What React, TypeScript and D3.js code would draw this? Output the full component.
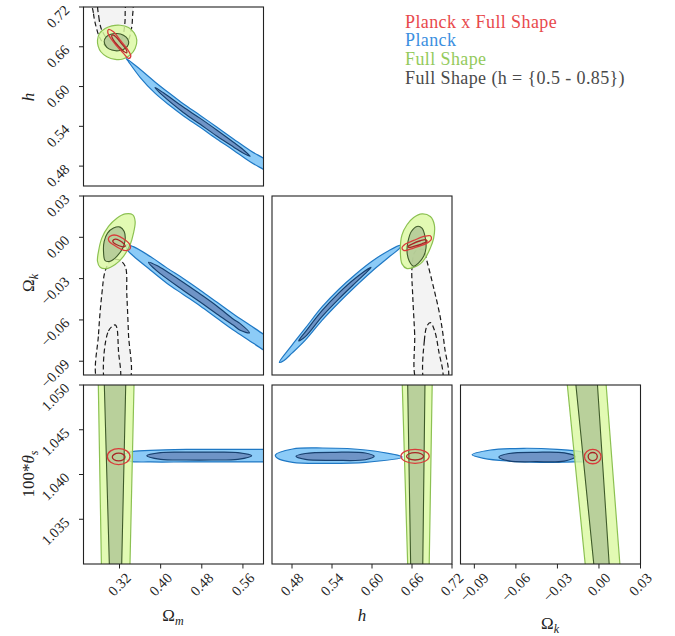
import React from "react";
import * as d3 from "d3";

type Pt = [number, number];
type Ell = [number, number, number, number]; // cx, cy, rx, ry

// parameter ranges and ticks
const omDomain: Pt = [0.25, 0.6];
const hDomain: Pt = [0.45, 0.72];
const okDomain: Pt = [-0.1, 0.03];
const thDomain: Pt = [1.03, 1.05];

const omTicks = [0.32, 0.4, 0.48, 0.56];
const hTicks = [0.48, 0.54, 0.6, 0.66, 0.72];
const okTicks = [-0.09, -0.06, -0.03, 0.0, 0.03];
const thTicks = [1.035, 1.04, 1.045, 1.05];

const legendLabels = ["Planck x Full Shape", "Planck", "Full Shape", "Full Shape (h = {0.5 - 0.85})"];
const legendColors = ["#e8494c", "#3b8fe0", "#94ca5c", "#4a4a4a"];

// ---- Omega_m vs h ----
const planckOuterOmH: Pt[] = [
  [0.333, 0.6425], [0.36, 0.626], [0.389, 0.607], [0.4185, 0.589], [0.444, 0.574], [0.477, 0.5565],
  [0.509, 0.539], [0.5416, 0.521], [0.574, 0.5035], [0.6, 0.492], [0.63, 0.478],
  [0.63, 0.462], [0.6, 0.475], [0.574, 0.4865], [0.5416, 0.504], [0.509, 0.521], [0.477, 0.5385],
  [0.444, 0.556], [0.4185, 0.571], [0.389, 0.59], [0.36, 0.614], [0.3375, 0.6375],
];
const planckInnerOmH: Pt[] = [
  [0.389, 0.5985], [0.4055, 0.5905], [0.444, 0.569], [0.477, 0.552], [0.509, 0.5345], [0.5416, 0.516],
  [0.561, 0.5045], [0.574, 0.495], [0.561, 0.4995], [0.5416, 0.509], [0.509, 0.5255], [0.477, 0.543],
  [0.444, 0.561], [0.4055, 0.5855],
];
const fsOuterOmH: Pt[] = [
  [0.2772, 0.67], [0.2811, 0.68], [0.2921, 0.6875], [0.3051, 0.6915], [0.3213, 0.6925], [0.3375, 0.689],
  [0.3485, 0.681], [0.3537, 0.67], [0.3504, 0.6575], [0.3407, 0.6475], [0.3265, 0.6415], [0.3116, 0.641],
  [0.2954, 0.645], [0.2837, 0.6525], [0.2785, 0.661],
];
const fsInnerOmH: Pt[] = [
  [0.2902, 0.6675], [0.2941, 0.675], [0.3031, 0.679], [0.3148, 0.68], [0.3278, 0.6775], [0.3362, 0.6715],
  [0.3375, 0.664], [0.331, 0.6575], [0.318, 0.654], [0.3051, 0.655], [0.2954, 0.659],
];
const pfsOuterOmH: Pt[] = [
  [0.2986, 0.686], [0.3083, 0.6825], [0.3213, 0.67], [0.3342, 0.6575], [0.342, 0.646], [0.3375, 0.6425],
  [0.3278, 0.65], [0.3148, 0.661], [0.3031, 0.6725], [0.2973, 0.681],
];
const pfsInnerOmH: Pt[] = [
  [0.3051, 0.6775], [0.3116, 0.676], [0.3226, 0.666], [0.3329, 0.656], [0.3342, 0.651], [0.3291, 0.6525],
  [0.318, 0.661], [0.3083, 0.67],
];
const priorOuterOmH: Pt[] = [
  [0.2681, 0.73], [0.2694, 0.71], [0.2746, 0.69], [0.2824, 0.6725], [0.2986, 0.6575], [0.318, 0.656],
  [0.3342, 0.665], [0.3427, 0.685], [0.3453, 0.705], [0.344, 0.73], [0.306, 0.75],
];
const priorInnerOmH: Pt[] = [
  [0.2792, 0.73], [0.2798, 0.705], [0.2856, 0.685], [0.2986, 0.67], [0.3116, 0.666], [0.3245, 0.6725],
  [0.3297, 0.69], [0.331, 0.71], [0.3291, 0.73], [0.305, 0.745],
];

// ---- Omega_m vs Omega_k ----
const planckOuterOmOk: Pt[] = [
  [0.334, -0.0054], [0.347, -0.0068], [0.38, -0.014], [0.412, -0.0222], [0.444, -0.0299], [0.477, -0.0384],
  [0.509, -0.047], [0.542, -0.0559], [0.574, -0.0639], [0.6, -0.0704], [0.626, -0.0774],
  [0.626, -0.0889], [0.6, -0.0819], [0.574, -0.0754], [0.542, -0.0675], [0.509, -0.0586], [0.477, -0.0499],
  [0.444, -0.0415], [0.412, -0.0333], [0.38, -0.0237], [0.347, -0.0136], [0.334, -0.0085],
];
const planckInnerOmOk: Pt[] = [
  [0.3764, -0.0181], [0.3926, -0.0205], [0.4444, -0.0328], [0.4768, -0.0412], [0.5092, -0.0499],
  [0.5416, -0.0595], [0.5546, -0.0627], [0.5727, -0.0694], [0.5546, -0.0675], [0.5416, -0.0639],
  [0.5092, -0.0557], [0.4768, -0.047], [0.4444, -0.0386], [0.3926, -0.0244],
];
const fsOuterOmOk: Pt[] = [
  [0.2772, -0.0174], [0.2792, -0.0102], [0.2856, -0.0006], [0.2986, 0.0079], [0.3148, 0.0139], [0.331, 0.017],
  [0.3459, 0.0163], [0.3504, 0.0115], [0.3472, 0.003], [0.3407, -0.0054], [0.3278, -0.0138], [0.3116, -0.0198],
  [0.2954, -0.0227], [0.2824, -0.0218],
];
const fsInnerOmOk: Pt[] = [
  [0.2889, -0.0102], [0.2902, -0.003], [0.2967, 0.003], [0.3083, 0.0067], [0.3213, 0.0074], [0.3291, 0.0042],
  [0.331, -0.0018], [0.3265, -0.0078], [0.3148, -0.0138], [0.3018, -0.0174], [0.2921, -0.0169],
];
const pfsOuterOmOk: Pt[] = [
  [0.2986, -0.0006], [0.3051, 0.0014], [0.3148, 0.0014], [0.3278, -0.0011], [0.3394, -0.0049],
  [0.3407, -0.0083], [0.3329, -0.0097], [0.3213, -0.0083], [0.3083, -0.0054], [0.2999, -0.003],
];
const pfsInnerOmOk: Pt[] = [
  [0.307, -0.0025], [0.3116, -0.0013], [0.32, -0.0023], [0.3291, -0.0049], [0.331, -0.0066],
  [0.3245, -0.0068], [0.3148, -0.0054], [0.3083, -0.0039],
];
const priorOuterOmOk: Pt[] = [
  [0.2759, -0.104], [0.2792, -0.0704], [0.2856, -0.0415], [0.2921, -0.0246], [0.3018, -0.0174], [0.318, -0.0162],
  [0.331, -0.021], [0.3342, -0.0415], [0.3375, -0.0704], [0.3407, -0.104], [0.31, -0.12],
];
const priorInnerOmOk: Pt[] = [
  [0.2902, -0.104], [0.2986, -0.068], [0.3116, -0.0636], [0.3148, -0.0656], [0.318, -0.0824], [0.3213, -0.104],
  [0.305, -0.115],
];

// ---- h vs Omega_k ----
const planckOuterHOk: Pt[] = [
  [0.461, -0.0908], [0.48, -0.0783], [0.5, -0.066], [0.525, -0.0506], [0.55, -0.0379], [0.575, -0.027],
  [0.6, -0.0174], [0.625, -0.0097], [0.6425, -0.0059], [0.6425, -0.0073], [0.625, -0.0145], [0.6, -0.0246],
  [0.575, -0.0357], [0.55, -0.0475], [0.525, -0.0603], [0.5, -0.0747], [0.48, -0.0841], [0.4675, -0.0896],
];
const planckInnerHOk: Pt[] = [
  [0.49, -0.0752], [0.5, -0.0687], [0.525, -0.0533], [0.55, -0.0405], [0.575, -0.0297], [0.5985, -0.0218],
  [0.595, -0.0239], [0.575, -0.0331], [0.55, -0.0449], [0.525, -0.0576], [0.5, -0.0721],
];
const fsOuterHOk: Pt[] = [
  [0.6425, -0.009], [0.645, 0.0018], [0.6525, 0.0091], [0.6625, 0.0144], [0.675, 0.017], [0.6875, 0.0151],
  [0.6935, 0.0091], [0.6925, -0.0006], [0.6875, -0.0078], [0.68, -0.015], [0.6725, -0.0193], [0.6625, -0.0218],
  [0.6525, -0.0227], [0.645, -0.0193],
];
const fsInnerHOk: Pt[] = [
  [0.6525, -0.0102], [0.654, -0.003], [0.659, 0.0042], [0.6675, 0.0079], [0.675, 0.0067], [0.68, -0.0006],
  [0.681, -0.0078], [0.6775, -0.0138], [0.67, -0.0186], [0.6625, -0.021], [0.656, -0.0174],
];
const pfsOuterHOk: Pt[] = [
  [0.645, -0.0078], [0.65, -0.0049], [0.6625, -0.0023], [0.6775, 0.0006], [0.6875, 0.0011], [0.689, -0.0013],
  [0.6825, -0.0042], [0.67, -0.0066], [0.655, -0.009], [0.6475, -0.0095],
];
const pfsInnerHOk: Pt[] = [
  [0.654, -0.0066], [0.66, -0.0049], [0.6725, -0.0025], [0.681, -0.0018], [0.6825, -0.003], [0.675, -0.0047],
  [0.6625, -0.0066], [0.655, -0.0073],
];
const priorOuterHOk: Pt[] = [
  [0.666, -0.104], [0.664, -0.0704], [0.661, -0.0415], [0.66, -0.0222], [0.665, -0.0102], [0.6775, -0.009],
  [0.6825, -0.0174], [0.6925, -0.0367], [0.7025, -0.0583], [0.709, -0.08], [0.714, -0.104], [0.69, -0.12],
];
const priorInnerHOk: Pt[] = [
  [0.6775, -0.104], [0.6785, -0.0752], [0.6825, -0.0644], [0.6875, -0.0619], [0.694, -0.068], [0.7, -0.0824],
  [0.706, -0.104], [0.69, -0.115],
];

// ---- 100*theta_s row ----
const planckOuterOmTh: Pt[] = [
  [0.325, 1.042], [0.34, 1.0425], [0.38, 1.0427], [0.45, 1.0428], [0.52, 1.0428], [0.6, 1.0428], [0.63, 1.0428],
  [0.63, 1.0414], [0.6, 1.0414], [0.52, 1.0414], [0.45, 1.0414], [0.38, 1.0414], [0.34, 1.0415],
];
const planckInnerOmTh: Pt[] = [
  [0.373, 1.0421], [0.4, 1.04245], [0.45, 1.0425], [0.5, 1.0425], [0.55, 1.04245], [0.577, 1.0421],
  [0.55, 1.0417], [0.5, 1.04162], [0.45, 1.04162], [0.4, 1.0417],
];
const fsOuterOmTh: Pt[] = [[0.2785, 1.051], [0.3486, 1.051], [0.34, 1.029], [0.2851, 1.029]];
const fsInnerOmTh: Pt[] = [[0.29, 1.051], [0.3325, 1.051], [0.3239, 1.029], [0.3007, 1.029]];
const pfsOmTh: Ell[] = [[0.3184, 1.042, 0.022, 0.0009], [0.3184, 1.04195, 0.0124, 0.00043]];

const planckOuterHTh: Pt[] = [
  [0.4551, 1.04218], [0.4809, 1.04285], [0.526, 1.04296], [0.5904, 1.04274], [0.6453, 1.04195],
  [0.5904, 1.04136], [0.526, 1.04125], [0.4809, 1.04136], [0.4583, 1.04181],
];
const planckInnerHTh: Pt[] = [
  [0.486, 1.04203], [0.5, 1.04235], [0.545, 1.04248], [0.59, 1.0424], [0.6033, 1.04203], [0.59, 1.04165],
  [0.545, 1.04158], [0.5, 1.04168],
];
const fsOuterHTh: Pt[] = [[0.645, 1.051], [0.6905, 1.051], [0.6856, 1.029], [0.6539, 1.029]];
const fsInnerHTh: Pt[] = [[0.6533, 1.051], [0.6796, 1.051], [0.676, 1.029], [0.6582, 1.029]];
const pfsHTh: Ell[] = [[0.6646, 1.04203, 0.0212, 0.00078], [0.6646, 1.04203, 0.0128, 0.00041]];

const planckOuterOkTh: Pt[] = [
  [-0.0916, 1.0422], [-0.0783, 1.04274], [-0.0543, 1.04293], [-0.0302, 1.04281], [-0.0133, 1.04255],
  [-0.0073, 1.04218], [-0.0073, 1.04154], [-0.0182, 1.0414], [-0.0422, 1.04136], [-0.0663, 1.04151],
  [-0.0832, 1.04181],
];
const planckInnerOkTh: Pt[] = [
  [-0.0723, 1.04196], [-0.065, 1.04235], [-0.045, 1.04248], [-0.025, 1.04242], [-0.0169, 1.042],
  [-0.025, 1.0415], [-0.045, 1.04143], [-0.065, 1.04152],
];
const fsOuterOkTh: Pt[] = [[-0.0235, 1.051], [0.0047, 1.051], [0.0156, 1.029], [-0.0093, 1.029]];
const fsInnerOkTh: Pt[] = [[-0.0173, 1.051], [-0.0015, 1.051], [0.0078, 1.029], [-0.0031, 1.029]];
const pfsOkTh: Ell[] = [[-0.0045, 1.042, 0.006, 0.0008], [-0.0045, 1.042, 0.0033, 0.00046]];

// layout
const W = 180;
const H = 179;
const colX = [83.5, 272, 460.5];
const rowY = [7, 196, 385];

const C = {
  blueOuter: "#8ccbf7",
  blueOuterLine: "#1f78c4",
  blueInner: "#6f94c6",
  blueInnerLine: "#17406f",
  greenOuter: "#dcf9a2",
  greenOuterLine: "#8cc152",
  greenInner: "#b2c897",
  greenInnerLine: "#3f5b2a",
  redOuter: "#d93b3b",
  redInner: "#a82525",
  prior: "#f3f3f3",
};

type PanelDef = {
  id: string;
  col: number;
  row: number;
  xd: Pt;
  yd: Pt;
  prior?: Pt[][];
  planck: Pt[][];
  fs: Pt[][];
  fsBand?: boolean;
  pfs?: Pt[][];
  pfsEll?: Ell[];
};

const panels: PanelDef[] = [
  { id: "omh", col: 0, row: 0, xd: omDomain, yd: hDomain, prior: [priorOuterOmH, priorInnerOmH],
    planck: [planckOuterOmH, planckInnerOmH], fs: [fsOuterOmH, fsInnerOmH], pfs: [pfsOuterOmH, pfsInnerOmH] },
  { id: "omok", col: 0, row: 1, xd: omDomain, yd: okDomain, prior: [priorOuterOmOk, priorInnerOmOk],
    planck: [planckOuterOmOk, planckInnerOmOk], fs: [fsOuterOmOk, fsInnerOmOk], pfs: [pfsOuterOmOk, pfsInnerOmOk] },
  { id: "hok", col: 1, row: 1, xd: hDomain, yd: okDomain, prior: [priorOuterHOk, priorInnerHOk],
    planck: [planckOuterHOk, planckInnerHOk], fs: [fsOuterHOk, fsInnerHOk], pfs: [pfsOuterHOk, pfsInnerHOk] },
  { id: "omth", col: 0, row: 2, xd: omDomain, yd: thDomain, planck: [planckOuterOmTh, planckInnerOmTh],
    fs: [fsOuterOmTh, fsInnerOmTh], fsBand: true, pfsEll: pfsOmTh },
  { id: "hth", col: 1, row: 2, xd: hDomain, yd: thDomain, planck: [planckOuterHTh, planckInnerHTh],
    fs: [fsOuterHTh, fsInnerHTh], fsBand: true, pfsEll: pfsHTh },
  { id: "okth", col: 2, row: 2, xd: okDomain, yd: thDomain, planck: [planckOuterOkTh, planckInnerOkTh],
    fs: [fsOuterOkTh, fsInnerOkTh], fsBand: true, pfsEll: pfsOkTh },
];

const FONT = "Liberation Serif";
const TICK_FS = 14.5;
const serif = { fontFamily: FONT };

// rough text advance in em for tick labels
const labelEm = (s: string) =>
  Array.from(s).reduce((a, c) => a + (c === "." ? 0.25 : c === "\u2212" ? 0.564 : 0.5), 0);

function Panel({ p }: { p: PanelDef }) {
  const x = d3.scaleLinear().domain(p.xd).range([colX[p.col], colX[p.col] + W]);
  const y = d3.scaleLinear().domain(p.yd).range([rowY[p.row] + H, rowY[p.row]]);
  const smooth = d3
    .line<Pt>()
    .x((d) => x(d[0]))
    .y((d) => y(d[1]))
    .curve(d3.curveCatmullRomClosed.alpha(0.5));
  const straight = d3
    .line<Pt>()
    .x((d) => x(d[0]))
    .y((d) => y(d[1]))
    .curve(d3.curveLinearClosed);
  const fsLine = p.fsBand ? straight : smooth;
  const clip = `clip-${p.id}`;

  return (
    <g>
      <clipPath id={clip}>
        <rect x={colX[p.col]} y={rowY[p.row]} width={W} height={H} />
      </clipPath>
      <g clipPath={`url(#${clip})`}>
        {p.prior &&
          p.prior.map((c, i) => (
            <path key={"pf" + i} d={smooth(c) || ""} fill={C.prior} stroke="none" />
          ))}
        {p.prior &&
          p.prior.map((c, i) => (
            <path key={"pl" + i} d={smooth(c) || ""} fill="none" stroke="#1a1a1a"
              strokeWidth={1.2} strokeDasharray="5,3" />
          ))}
        <path d={smooth(p.planck[0]) || ""} fill={C.blueOuter} stroke={C.blueOuterLine} strokeWidth={1.2} />
        <path d={smooth(p.planck[1]) || ""} fill={C.blueInner} stroke={C.blueInnerLine} strokeWidth={1.2} />
        <path d={fsLine(p.fs[0]) || ""} fill={C.greenOuter} fillOpacity={0.82} stroke={C.greenOuterLine} strokeWidth={1.2} />
        <path d={fsLine(p.fs[1]) || ""} fill={C.greenInner} fillOpacity={0.85} stroke={C.greenInnerLine} strokeWidth={1.1} />
        {p.pfs &&
          p.pfs.map((c, i) => (
            <path key={"r" + i} d={smooth(c) || ""} fill="none"
              stroke={i === 0 ? C.redOuter : C.redInner} strokeWidth={1.3} />
          ))}
        {p.pfsEll &&
          p.pfsEll.map((e, i) => (
            <ellipse key={"e" + i} cx={x(e[0])} cy={y(e[1])}
              rx={x(e[0] + e[2]) - x(e[0])} ry={y(e[1]) - y(e[1] + e[3])}
              fill="none" stroke={i === 0 ? C.redOuter : C.redInner} strokeWidth={1.3} />
          ))}
      </g>
      <rect x={colX[p.col]} y={rowY[p.row]} width={W} height={H} fill="none" stroke="#222" strokeWidth={1.1} />
    </g>
  );
}

function XAxis({ col, domain, ticks, fmt }: { col: number; domain: Pt; ticks: number[]; fmt: (v: number) => string }) {
  const x = d3.scaleLinear().domain(domain).range([colX[col], colX[col] + W]);
  const base = rowY[2] + H;
  const hgt = 0.68 * TICK_FS;
  return (
    <g>
      {ticks.map((t) => {
        const s = fmt(t);
        const L = labelEm(s) * TICK_FS;
        const ax = x(t) + 0.354 * (L + hgt);
        const ay = base + 8 + 0.707 * hgt;
        return (
          <g key={s}>
            <line x1={x(t)} x2={x(t)} y1={base} y2={base + 4.5} stroke="#222" strokeWidth={1} />
            <text transform={`translate(${ax},${ay}) rotate(-45)`} textAnchor="end"
              style={serif} fontSize={TICK_FS} fill="#222">{s}</text>
          </g>
        );
      })}
    </g>
  );
}

function YAxis({ row, domain, ticks, fmt }: { row: number; domain: Pt; ticks: number[]; fmt: (v: number) => string }) {
  const y = d3.scaleLinear().domain(domain).range([rowY[row] + H, rowY[row]]);
  const left = colX[0];
  return (
    <g>
      {ticks.map((t) => {
        const s = fmt(t);
        return (
          <g key={s}>
            <line x1={left - 4.5} x2={left} y1={y(t)} y2={y(t)} stroke="#222" strokeWidth={1} />
            <text transform={`translate(${left - 13},${y(t) + 4}) rotate(-45)`}
              textAnchor="end" style={serif} fontSize={TICK_FS} fill="#222">{s}</text>
          </g>
        );
      })}
    </g>
  );
}

const f2 = d3.format(".2f");
const f3 = d3.format(".3f");

export default function App() {
  const sub = { fontStyle: "italic" as const, fontSize: 12 };
  return (
    <svg width={675} height={636} style={{ position: "absolute", left: 0, top: 0, background: "#fff" }}>
      <rect width={675} height={636} fill="#fff" />
      {panels.map((p) => (
        <Panel key={p.id} p={p} />
      ))}

      <XAxis col={0} domain={omDomain} ticks={omTicks} fmt={f2} />
      <XAxis col={1} domain={hDomain} ticks={hTicks} fmt={f2} />
      <XAxis col={2} domain={okDomain} ticks={okTicks} fmt={f2} />
      <YAxis row={0} domain={hDomain} ticks={hTicks} fmt={f2} />
      <YAxis row={1} domain={okDomain} ticks={okTicks} fmt={f2} />
      <YAxis row={2} domain={thDomain} ticks={thTicks} fmt={f3} />

      <g style={serif} fontSize={17} fill="#222">
        <text x={173} y={620.5} textAnchor="middle">
          Ω<tspan {...sub} dy={4}>m</tspan>
        </text>
        <text x={362} y={620.5} textAnchor="middle" fontStyle="italic">h</text>
        <text x={550} y={629} textAnchor="middle">
          Ω<tspan {...sub} dy={4}>k</tspan>
        </text>
        <text transform="translate(34,97) rotate(-90)" textAnchor="middle" fontStyle="italic">h</text>
        <text transform="translate(34,283) rotate(-90)" textAnchor="middle">
          Ω<tspan {...sub} dy={4}>k</tspan>
        </text>
        <text transform="translate(34,474) rotate(-90)" textAnchor="middle">
          100*<tspan fontStyle="italic">θ</tspan><tspan {...sub} dy={4}>s</tspan>
        </text>
      </g>

      <g style={serif} fontSize={18} letterSpacing={0.4}>
        {legendLabels.map((l, i) => (
          <text key={l} x={405} y={27.7 + i * 18.6} fill={legendColors[i]}>{l}</text>
        ))}
      </g>
    </svg>
  );
}
